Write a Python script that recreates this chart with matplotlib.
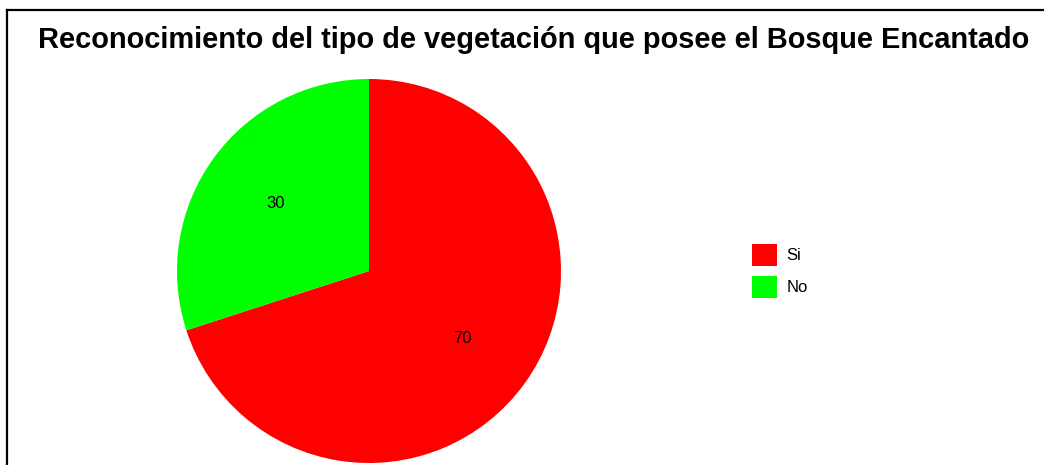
import matplotlib.pyplot as plt
from matplotlib.patches import Patch
from matplotlib.lines import Line2D

plt.rcParams['font.family'] = ['Liberation Sans', 'DejaVu Sans']

categories = ['Si', 'No']
values = [70, 30]
colors = ['#ff0000', '#00ff00']
title = 'Reconocimiento del tipo de vegetación que posee el Bosque Encantado'

W, H = 1044, 465
fig = plt.figure(figsize=(W / 100, H / 100), dpi=100)

# frame (only top and left visible in the crop)
fig.add_artist(Line2D([7 / W, 7 / W], [0, 1 - 10 / H], color='black', lw=1.6, transform=fig.transFigure))
fig.add_artist(Line2D([7 / W, 1], [1 - 10 / H, 1 - 10 / H], color='black', lw=1.6, transform=fig.transFigure))

fig.text(534 / W, 1 - 40 / H, title, ha='center', va='center', fontsize=20.9, fontweight='bold')

cx, cy, r = 369, 194, 192
ax = fig.add_axes([(cx - r) / W, (cy - r) / H, 2 * r / W, 2 * r / H])
wedges, texts = ax.pie(values, colors=colors, labels=[str(v) for v in values],
                       startangle=90, counterclock=False, labeldistance=0.6,
                       radius=1, textprops={'fontsize': 12})
for t in texts:
    t.set_ha('center')
    t.set_va('center')
ax.set_xlim(-1, 1)
ax.set_ylim(-1, 1)
ax.set_aspect('equal')
ax.axis('off')

handles = [Patch(facecolor=c, edgecolor='none') for c in colors]
fig.legend(handles, categories, loc='center left', bbox_to_anchor=(737 / W, 1 - 271 / H),
           frameon=False, fontsize=12, handlelength=1.5, handleheight=1.65,
           handletextpad=0.55, labelspacing=0.6)

fig.savefig('out.png', dpi=100, facecolor='white')
